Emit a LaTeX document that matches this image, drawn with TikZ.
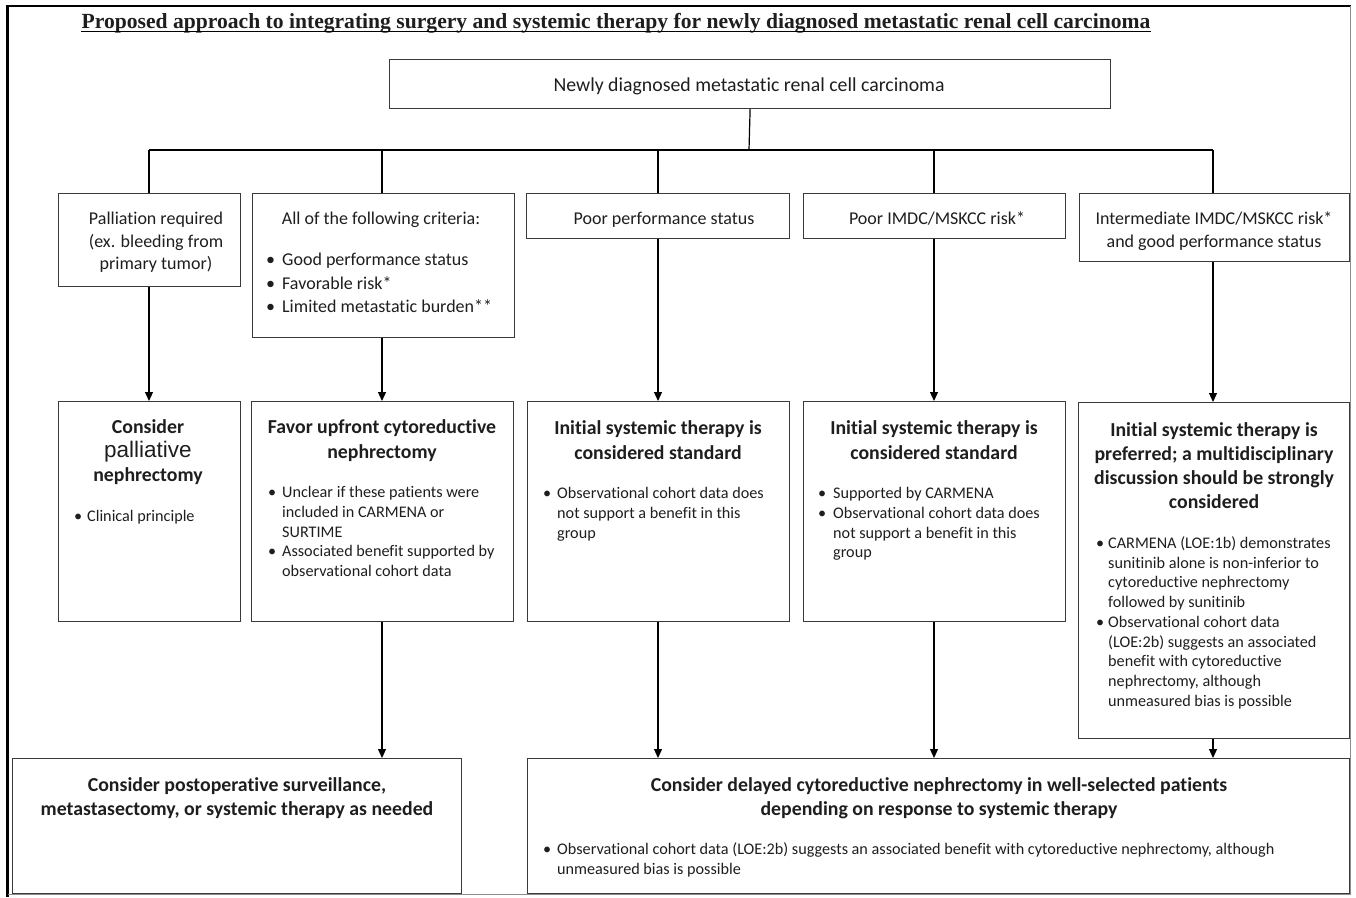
\documentclass[tikz,border=0pt]{standalone}
\usepackage{fontspec}
\setmainfont{Carlito}[RawFeature={-liga;-clig;-calt}]
\newfontfamily\serifT{Liberation Serif}
\newfontfamily\arialT{Liberation Sans}
\usetikzlibrary{arrows.meta}
\definecolor{boxgray}{HTML}{3A3A3A}
\definecolor{txtcol}{HTML}{1E1E1E}
\newcommand{\fs}[2]{\fontsize{#1}{#2}\selectfont}
\newcommand{\cl}[1]{\begin{tabular}[t]{@{}c@{}}#1\end{tabular}}
\newcommand{\bl}[1]{\begin{tabular}[t]{@{}l@{}l@{}}#1\end{tabular}}
\newcommand{\bb}[1]{\makebox[#1][l]{\textbullet}}
\begin{document}
\begin{tikzpicture}[x=1pt,y=-1pt,
  box/.style={draw=boxgray, line width=1.2pt, inner sep=0pt, anchor=north west},
  txt/.style={inner sep=0pt, text=txtcol},
  ln/.style={draw=black, line width=1.2pt},
  arr/.style={draw=black, line width=1.2pt, -{Triangle[length=9pt,width=8pt]}}]
\useasboundingbox (0,0) rectangle (1356,897);
% frame
\draw[black, line width=3pt] (7,5) -- (7,897);
\draw[black, line width=2pt] (6,6) -- (1351,6);
\draw[black!45, line width=1pt] (1350,6) -- (1350,894) -- (8,894);
% title
\node[txt, anchor=base, font=\serifT\bfseries\fs{21.6}{24}] (title) at (616,28.5) {Proposed approach to integrating surgery and systemic therapy for newly diagnosed metastatic renal cell carcinoma};
\draw[line width=1.3pt] ([yshift=-3pt]title.base west) -- ([yshift=-3pt]title.base east);
% boxes
\node[box, minimum width=721pt, minimum height=49pt] (top) at (389,59) {};
\node[box, minimum width=182pt, minimum height=93pt] (a2) at (58,193) {};
\node[box, minimum width=262pt, minimum height=144pt] (b2) at (252,193) {};
\node[box, minimum width=263pt, minimum height=45pt] (c2) at (526,193) {};
\node[box, minimum width=262pt, minimum height=45pt] (d2) at (803,193) {};
\node[box, minimum width=270pt, minimum height=68pt] (e2) at (1079,193) {};
\node[box, minimum width=182pt, minimum height=220pt] (a3) at (58,401) {};
\node[box, minimum width=262pt, minimum height=220pt] (b3) at (251,401) {};
\node[box, minimum width=262pt, minimum height=220pt] (c3) at (527,401) {};
\node[box, minimum width=262pt, minimum height=220pt] (d3) at (803,401) {};
\node[box, minimum width=271pt, minimum height=336pt] (e3) at (1078,402) {};
\node[box, minimum width=449pt, minimum height=135pt] (f) at (12,758) {};
\node[box, minimum width=822pt, minimum height=135pt] (g) at (527,758) {};
% connectors
\coordinate (bus) at (749,150);
\coordinate (xA) at (149,150);
\coordinate (xB) at (382,150);
\coordinate (xC) at (658,150);
\coordinate (xD) at (934,150);
\coordinate (xE) at (1213,150);
\draw[ln] (top.south) -- (bus);
\draw[ln] (xA) -- (xE);
\draw[ln] (xA) -- (xA |- a2.north);
\draw[ln] (xB) -- (xB |- b2.north);
\draw[ln] (xC) -- (xC |- c2.north);
\draw[ln] (xD) -- (xD |- d2.north);
\draw[ln] (xE) -- (xE |- e2.north);
\draw[arr] (xA |- a2.south) -- (xA |- a3.north);
\draw[arr] (xB |- b2.south) -- (xB |- b3.north);
\draw[arr] (xC |- c2.south) -- (xC |- c3.north);
\draw[arr] (xD |- d2.south) -- (xD |- d3.north);
\draw[arr] (xE |- e2.south) -- (xE |- e3.north);
\draw[arr] (xB |- b3.south) -- (xB |- f.north);
\draw[arr] (xC |- c3.south) -- (xC |- g.north);
\draw[arr] (xD |- d3.south) -- (xD |- g.north);
\draw[arr] (xE |- e3.south) -- (xE |- g.north);
% texts row 1-2
\node[txt, anchor=base, font=\fs{19.8}{22}] (tTop) at (749,91.5) {Newly diagnosed metastatic renal cell carcinoma};
\node[txt, anchor=base, font=\fs{18}{22.5}] (tA2) at (156,224.5) {\cl{Palliation required\\(ex. bleeding from\\primary tumor)}};
\node[txt, anchor=base, font=\fs{18}{22.5}] (tB2) at (381,224.5) {All of the following criteria:};
\node[txt, anchor=base west, font=\fs{18}{23.5}] (tB2l) at (266,265.5) {\bl{\bb{16pt}& Good performance status\\ \bb{16pt}& Favorable risk*\\ \bb{16pt}& Limited metastatic burden**}};
\node[txt, anchor=base, font=\fs{18}{22.5}] (tC2) at (664,224.5) {Poor performance status};
\node[txt, anchor=base, font=\fs{18}{22.5}] (tD2) at (937,224.5) {Poor IMDC/MSKCC risk*};
\node[txt, anchor=base, font=\fs{18}{23}] (tE2) at (1214,224.5) {\cl{Intermediate IMDC/MSKCC risk*\\and good performance status}};
% row 3
\node[txt, anchor=base, font=\bfseries\fs{19.8}{24}] (tA3) at (148,433.5) {\cl{Consider\\{\arialT\mdseries\fs{22.5}{24}palliative}\\nephrectomy}};
\node[txt, anchor=base west, font=\fs{16.2}{19.8}] (tA3l) at (74,521.5) {\bl{\bb{13pt}& Clinical principle}};
\node[txt, anchor=base, font=\bfseries\fs{19.8}{24.5}] (tB3) at (382,433.5) {\cl{Favor upfront cytoreductive\\nephrectomy}};
\node[txt, anchor=base west, font=\fs{16.2}{19.8}] (tB3l) at (268,497.5) {\bl{\bb{14pt}& Unclear if these patients were\\ & included in CARMENA or\\ & SURTIME\\ \bb{14pt}& Associated benefit supported by\\ & observational cohort data}};
\node[txt, anchor=base, font=\bfseries\fs{19.8}{24.5}] (tC3) at (658,434.5) {\cl{Initial systemic therapy is\\considered standard}};
\node[txt, anchor=base west, font=\fs{16.2}{19.8}] (tC3l) at (543,498.5) {\bl{\bb{14pt}& Observational cohort data does\\ & not support a benefit in this\\ & group}};
\node[txt, anchor=base, font=\bfseries\fs{19.8}{24.5}] (tD3) at (934,434.5) {\cl{Initial systemic therapy is\\considered standard}};
\node[txt, anchor=base west, font=\fs{16.2}{19.8}] (tD3l) at (818,498.5) {\bl{\bb{15pt}& Supported by CARMENA\\ \bb{15pt}& Observational cohort data does\\ & not support a benefit in this\\ & group}};
\node[txt, anchor=base, font=\bfseries\fs{19.8}{24}] (tE3) at (1214,436.5) {\cl{Initial systemic therapy is\\preferred; a multidisciplinary\\discussion should be strongly\\considered}};
\node[txt, anchor=base west, font=\fs{16.2}{19.7}] (tE3l) at (1096,548.5) {\bl{\bb{12pt}& CARMENA (LOE:1b) demonstrates\\ & sunitinib alone is non-inferior to\\ & cytoreductive nephrectomy\\ & followed by sunitinib\\ \bb{12pt}& Observational cohort data\\ & (LOE:2b) suggests an associated\\ & benefit with cytoreductive\\ & nephrectomy, although\\ & unmeasured bias is possible}};
% row 4
\node[txt, anchor=base, font=\bfseries\fs{19.8}{24}] (tF) at (237,791.5) {\cl{Consider postoperative surveillance,\\metastasectomy, or systemic therapy as needed}};
\node[txt, anchor=base, font=\bfseries\fs{19.8}{24}] (tG) at (939,791.5) {\cl{Consider delayed cytoreductive nephrectomy in well-selected patients\\depending on response to systemic therapy}};
\node[txt, anchor=base west, font=\fs{16.2}{20}] (tGl) at (543,854.5) {\bl{\bb{14pt}& Observational cohort data (LOE:2b) suggests an associated benefit with cytoreductive nephrectomy, although\\ & unmeasured bias is possible}};
\end{tikzpicture}
\end{document}
